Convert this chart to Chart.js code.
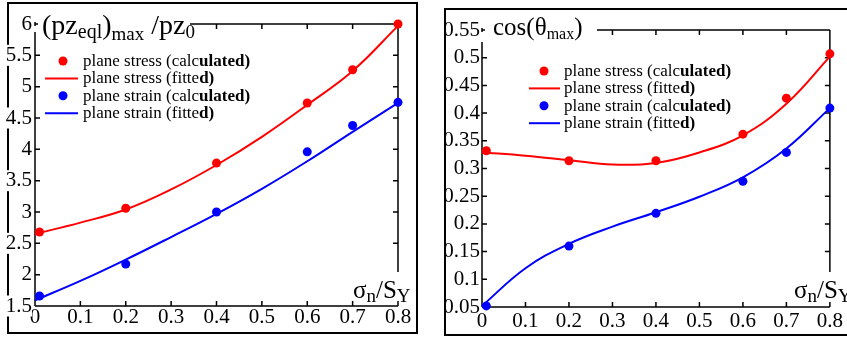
<!DOCTYPE html>
<html>
<head>
<meta charset="utf-8">
<script src="https://cdn.jsdelivr.net/npm/chart.js@4"></script>
<style>
body { margin: 0; background: #fff; width: 847px; height: 338px; overflow: hidden; position: relative; }
.box { position: absolute; border: 2px solid #000; box-sizing: border-box; }
canvas { position: absolute; top: 0; }
</style>
</head>
<body>
<div class="box" style="left:7px;top:2px;width:411px;height:332px"></div>
<div class="box" style="left:444px;top:8px;width:420px;height:328px"></div>
<canvas id="left" width="425" height="338" style="left:0;width:425px;height:338px"></canvas>
<canvas id="right" width="420" height="338" style="left:427px;width:420px;height:338px"></canvas>
<script>
// sigma_n / S_Y
var sigmaCalc = [0.01, 0.2, 0.4, 0.6, 0.7, 0.8];
var sigmaFit = [0, 0.1, 0.2, 0.3, 0.4, 0.5, 0.6, 0.7, 0.8];

// (pz_eql)_max / pz_0
var pzStressCalc = [2.68, 3.06, 3.78, 4.74, 5.27, 6.0];
var pzStressFit = [2.65, 2.83, 3.04, 3.36, 3.75, 4.2, 4.71, 5.25, 5.97];
var pzStrainCalc = [1.66, 2.17, 3.0, 3.96, 4.38, 4.75];
var pzStrainFit = [1.59, 1.9, 2.24, 2.6, 2.97, 3.37, 3.81, 4.28, 4.74];

// cos(theta_max)
var cosStressCalc = [0.332, 0.314, 0.314, 0.362, 0.427, 0.507];
var cosStressFit = [0.329, 0.323, 0.315, 0.307, 0.31, 0.329, 0.36, 0.417, 0.502];
var cosStrainCalc = [0.052, 0.16, 0.219, 0.277, 0.329, 0.409];
var cosStrainFit = [0.052, 0.12, 0.164, 0.195, 0.221, 0.249, 0.284, 0.336, 0.409];

var legendLabels = ['plane stress (calculated)', 'plane stress (fitted)',
                    'plane strain (calculated)', 'plane strain (fitted)'];

var SERIF = "'Liberation Serif', 'Times New Roman', serif";
var RED = '#ff0000', BLUE = '#0000ff';

function pts(xs, ys) {
  return xs.map(function (x, i) { return { x: x, y: ys[i] }; });
}

function fmt(v) { return String(Number(v.toFixed(2))); }

// draws text pieces one after another: [text, size, dy, bold]
function drawPieces(ctx, x, y, pieces) {
  pieces.forEach(function (p) {
    ctx.font = (p[3] ? 'bold ' : '') + p[1] + 'px ' + SERIF;
    ctx.fillText(p[0], x, y + p[2]);
    x += ctx.measureText(p[0]).width;
  });
}

function makeChart(id, o) {
  var frame = {
    id: 'frame',
    beforeDatasetsDraw: function (chart) {
      var ctx = chart.ctx, a = chart.chartArea;
      var xs = chart.scales.x, ys = chart.scales.y;
      ctx.save();
      ctx.strokeStyle = '#000';
      ctx.lineWidth = 1.5;
      ctx.beginPath();
      ctx.moveTo(a.left, a.bottom); ctx.lineTo(a.right, a.bottom);
      ctx.moveTo(o.topFrom, a.top); ctx.lineTo(a.right, a.top);
      ctx.moveTo(a.left, a.top - 2); ctx.lineTo(a.left, a.top + 2);
      ctx.moveTo(a.left, a.top); ctx.lineTo(a.left + 3, a.top);
      ctx.moveTo(a.left, a.top + o.leftGap); ctx.lineTo(a.left, a.bottom);
      ctx.moveTo(a.right, a.top); ctx.lineTo(a.right, o.rightTo);
      ctx.moveTo(a.right, a.bottom - 5); ctx.lineTo(a.right, a.bottom);
      xs.ticks.forEach(function (t) {
        var px = xs.getPixelForValue(t.value);
        ctx.moveTo(px, a.bottom); ctx.lineTo(px, a.bottom - 5);
        if (px > o.topFrom) { ctx.moveTo(px, a.top); ctx.lineTo(px, a.top + 5); }
      });
      ys.ticks.forEach(function (t) {
        var py = ys.getPixelForValue(t.value);
        if (py > a.top + o.leftGap) { ctx.moveTo(a.left, py); ctx.lineTo(a.left + 5, py); }
        if (py < o.rightTo) { ctx.moveTo(a.right, py); ctx.lineTo(a.right - 5, py); }
      });
      ctx.stroke();
      ctx.restore();
    },
    afterDatasetsDraw: function (chart) {
      var ctx = chart.ctx;
      ctx.save();
      ctx.fillStyle = '#000';
      ctx.textBaseline = 'alphabetic';
      drawPieces(ctx, o.titleX, o.titleY, o.title);
      drawPieces(ctx, o.xTitleX, o.xTitleY, [
        ['\u03c3', 25, 0], ['n', 19, 4], ['/S', 25, 0], ['Y', 19, 4]
      ]);
      // legend
      var colors = [RED, RED, BLUE, BLUE];
      var boldFrom = [18, 19, 18, 19];
      legendLabels.forEach(function (lab, i) {
        var y = o.legY + i * o.legStep;
        ctx.fillStyle = colors[i];
        ctx.strokeStyle = colors[i];
        if (i % 2 === 0) {
          ctx.beginPath();
          ctx.arc(o.legDotX, y, 4.5, 0, Math.PI * 2);
          ctx.fill();
        } else {
          ctx.lineWidth = 2;
          ctx.beginPath();
          ctx.moveTo(o.legLine[0], y); ctx.lineTo(o.legLine[1], y);
          ctx.stroke();
        }
        ctx.fillStyle = '#000';
        drawPieces(ctx, o.legTextX, y + 5, [
          [lab.slice(0, boldFrom[i]), 17, 0, false],
          [lab.slice(boldFrom[i]), 17, 0, true]
        ]);
      });
      ctx.restore();
    }
  };

  var tickFont = { family: SERIF, size: 21, lineHeight: 1 };

  return new Chart(document.getElementById(id), {
    type: 'line',
    data: {
      datasets: [
        { data: pts(sigmaCalc, o.stressCalc), showLine: false, pointRadius: 4.5,
          pointBackgroundColor: RED, pointBorderWidth: 0, borderColor: RED, clip: false },
        { data: pts(sigmaFit, o.stressFit), pointRadius: 0, borderColor: RED, borderWidth: 2,
          tension: 0.4, clip: false },
        { data: pts(sigmaCalc, o.strainCalc), showLine: false, pointRadius: 4.5,
          pointBackgroundColor: BLUE, pointBorderWidth: 0, borderColor: BLUE, clip: false },
        { data: pts(sigmaFit, o.strainFit), pointRadius: 0, borderColor: BLUE, borderWidth: 2,
          tension: 0.4, clip: false }
      ]
    },
    options: {
      responsive: false,
      animation: false,
      layout: { padding: { left: 0, top: o.top, right: o.padRight, bottom: 0 } },
      plugins: { legend: { display: false }, tooltip: { enabled: false } },
      scales: {
        x: {
          type: 'linear', min: 0, max: 0.8,
          grid: { display: false, drawTicks: false },
          border: { display: false },
          ticks: { stepSize: 0.1, color: '#000', font: tickFont, padding: o.xPad,
                   maxRotation: 0, autoSkip: false, callback: fmt },
          afterFit: function (s) { s.height = o.xHeight; }
        },
        y: {
          min: o.yMin, max: o.yMax,
          grid: { display: false, drawTicks: false },
          border: { display: false },
          ticks: { stepSize: o.yStep, color: '#000', font: tickFont, padding: o.yPad,
                   autoSkip: false, callback: fmt,
                   showLabelBackdrop: o.backdrop, backdropColor: '#fff', backdropPadding: 0 },
          afterFit: function (s) { s.width = o.yWidth; }
        }
      }
    },
    plugins: [frame]
  });
}

makeChart('left', {
  stressCalc: pzStressCalc, stressFit: pzStressFit,
  strainCalc: pzStrainCalc, strainFit: pzStrainFit,
  yMin: 1.5, yMax: 6, yStep: 0.5, backdrop: true,
  top: 24, padRight: 27, xHeight: 32, yWidth: 35, xPad: 1, yPad: 3,
  topFrom: 190, leftGap: 8, rightTo: 272,
  titleX: 42, titleY: 34,
  title: [['(pz', 28, 0], ['eql', 20, 4], [')', 28, 0], ['max', 19, 6], [' /pz', 28, 0], ['0', 19, 4]],
  xTitleX: 353, xTitleY: 298,
  legY: 61, legStep: 17.4, legDotX: 63, legLine: [45, 78], legTextX: 83
});

makeChart('right', {
  stressCalc: cosStressCalc, stressFit: cosStressFit,
  strainCalc: cosStrainCalc, strainFit: cosStrainFit,
  yMin: 0.05, yMax: 0.55, yStep: 0.05, backdrop: false,
  top: 30, padRight: 13, xHeight: 31, yWidth: 55, xPad: 4, yPad: 2,
  topFrom: 170, leftGap: 12, rightTo: 272,
  titleX: 66, titleY: 35,
  title: [['cos(\u03b8', 25, 0], ['max', 16, 4], [')', 25, 0]],
  xTitleX: 367, xTitleY: 298,
  legY: 71, legStep: 17.4, legDotX: 117, legLine: [102, 133], legTextX: 137
});
</script>
</body>
</html>
